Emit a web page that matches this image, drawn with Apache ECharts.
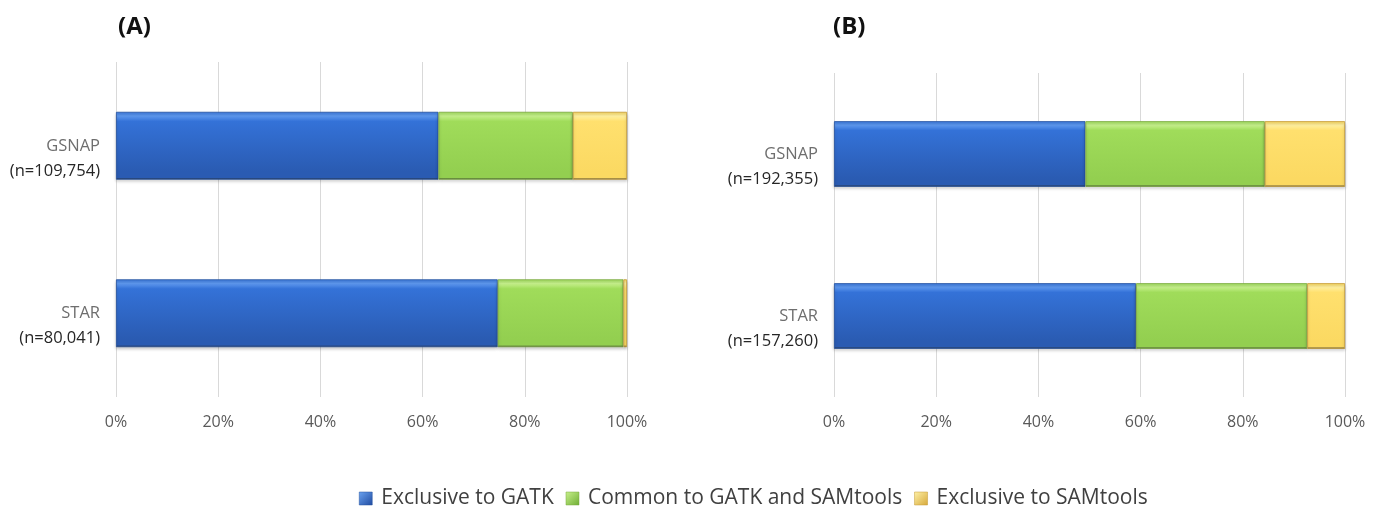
<!DOCTYPE html>
<html>
<head>
<meta charset="utf-8">
<title>GATK vs SAMtools variant calls</title>
<script src="https://cdn.jsdelivr.net/npm/echarts@6/dist/echarts.min.js"></script>
<style>
  html, body { margin: 0; padding: 0; background: #ffffff; }
  #chart { width: 1381px; height: 515px; }
</style>
</head>
<body>
<div id="chart"></div>
<script>
// Aligners shown on each panel (top to bottom)
const categories = ['GSNAP', 'STAR'];

// Panel (A): number of variants per aligner and the split (% of calls)
const countsA = ['109,754', '80,041'];
const gatkOnlyA = [63.1, 74.7];
const commonA = [26.3, 24.6];
const samtoolsOnlyA = [10.6, 0.7];

// Panel (B)
const countsB = ['192,355', '157,260'];
const gatkOnlyB = [49.2, 59.1];
const commonB = [35.1, 33.5];
const samtoolsOnlyB = [15.7, 7.4];

const seriesNames = ['Exclusive to GATK', 'Common to GATK and SAMtools', 'Exclusive to SAMtools'];
const panelTitles = ['(A)', '(B)'];
const xTicks = { min: 0, max: 100, interval: 20 };

const FONT = '"Open Sans", "Noto Sans", sans-serif';

// Bevelled-looking fills: light top rim, flat body, dark bottom rim
function bevel(top, body, low, rim) {
  return new echarts.graphic.LinearGradient(0, 0, 0, 1, [
    { offset: 0, color: rim },
    { offset: 0.06, color: top },
    { offset: 0.14, color: body },
    { offset: 0.88, color: low },
    { offset: 0.97, color: low },
    { offset: 1, color: '#2b2b2b' }
  ]);
}
const fills = [
  bevel('#5e98ee', '#3472d8', '#2a5bb2', '#3a78dc'),
  bevel('#c6f08c', '#a0dc5a', '#93cf50', '#9fdc5c'),
  bevel('#fff0a0', '#ffe06e', '#fbd962', '#f5d45c')
];
const borders = ['#24509e', '#7aa83e', '#c49a35'];
const legendIcons = [
  new echarts.graphic.LinearGradient(0, 0, 1, 1, [{ offset: 0, color: '#6aa2f0' }, { offset: 1, color: '#1f4aa0' }]),
  new echarts.graphic.LinearGradient(0, 0, 1, 1, [{ offset: 0, color: '#c8f08c' }, { offset: 1, color: '#6fae34' }]),
  new echarts.graphic.LinearGradient(0, 0, 1, 1, [{ offset: 0, color: '#fff2a8' }, { offset: 1, color: '#d6a83a' }])
];

const grids = [
  { left: 116, right: 754, top: 62, bottom: 118 },
  { left: 834, right: 36, top: 73, bottom: 118 }
];
const counts = [countsA, countsB];
const panelData = [
  [gatkOnlyA, commonA, samtoolsOnlyA],
  [gatkOnlyB, commonB, samtoolsOnlyB]
];

const xAxes = grids.map((g, i) => ({
  type: 'value',
  gridIndex: i,
  min: xTicks.min,
  max: xTicks.max,
  interval: xTicks.interval,
  axisLine: { show: false },
  axisTick: { show: false },
  splitLine: { show: true, lineStyle: { color: '#d9d9d9', width: 1 } },
  axisLabel: {
    formatter: '{value}%',
    color: '#595959',
    fontFamily: FONT,
    fontSize: 16,
    margin: 17
  }
}));

const yAxes = grids.map((g, i) => ({
  type: 'category',
  gridIndex: i,
  data: categories,
  inverse: true,
  axisLine: { show: false },
  axisTick: { show: false },
  axisLabel: {
    margin: 16,
    padding: [26, 0, 0, 0],
    formatter: (value, idx) => '{a|' + value + '}\n{b|(n=' + counts[i][idx] + ')}',
    rich: {
      a: { color: '#6e6e6e', fontFamily: FONT, fontSize: 16.5, lineHeight: 25, align: 'right' },
      b: { color: '#262626', fontFamily: FONT, fontSize: 16.5, lineHeight: 25, align: 'right' }
    }
  }
}));

const series = [];
panelData.forEach((parts, p) => {
  parts.forEach((values, s) => {
    series.push({
      name: seriesNames[s],
      type: 'bar',
      stack: 'panel' + p,
      xAxisIndex: p,
      yAxisIndex: p,
      barWidth: '40.5%',
      data: values,
      itemStyle: {
        color: fills[s],
        borderColor: borders[s],
        borderWidth: 0.8,
        shadowColor: 'rgba(0,0,0,0.22)',
        shadowBlur: 3,
        shadowOffsetY: 2
      },
      emphasis: { disabled: true }
    });
  });
});

const chart = echarts.init(document.getElementById('chart'), null, { renderer: 'canvas' });
chart.setOption({
  animation: false,
  backgroundColor: '#ffffff',
  title: [
    { text: panelTitles[0], left: 113, top: 10, textStyle: { fontFamily: FONT, fontWeight: 'bold', fontSize: 24, color: '#111111' } },
    { text: panelTitles[1], left: 828, top: 10, textStyle: { fontFamily: FONT, fontWeight: 'bold', fontSize: 24, color: '#111111' } }
  ],
  legend: {
    bottom: 1,
    left: 354,
    itemWidth: 13,
    itemHeight: 13,
    itemGap: 12,
    selectedMode: false,
    textStyle: { fontFamily: FONT, fontSize: 21, color: '#404040', padding: [0, 0, 0, 4] },
    data: seriesNames.map((n, i) => ({ name: n, icon: 'rect', itemStyle: { color: legendIcons[i], borderColor: borders[i], borderWidth: 0.5 } }))
  },
  grid: grids,
  xAxis: xAxes,
  yAxis: yAxes,
  series: series
});
</script>
</body>
</html>
